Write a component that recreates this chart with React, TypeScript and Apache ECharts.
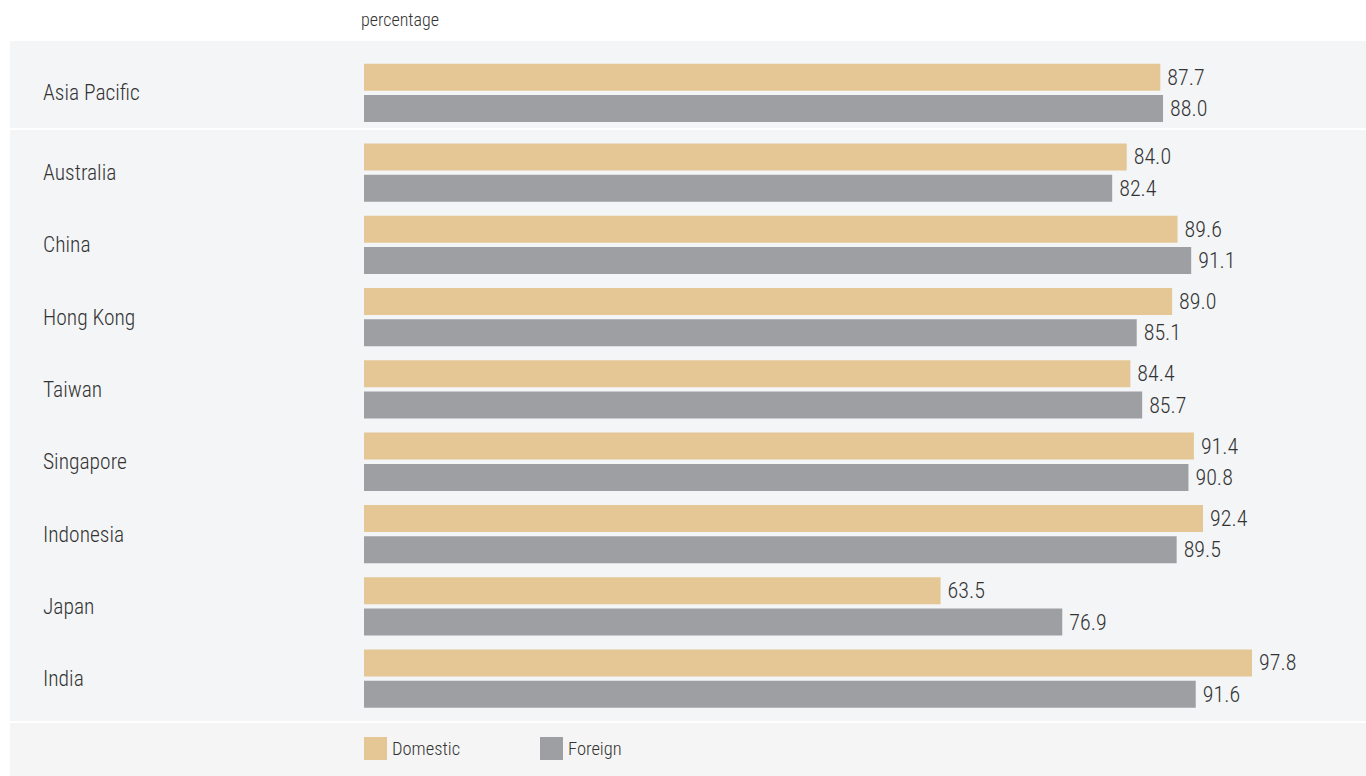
import React, { useEffect, useRef } from "react";
import * as echarts from "echarts";

const regionCategories = ["Asia Pacific"];
const regionDomestic = [87.7];
const regionForeign = [88.0];

const marketCategories = ["Australia", "China", "Hong Kong", "Taiwan", "Singapore", "Indonesia", "Japan", "India"];
const marketDomestic = [84.0, 89.6, 89.0, 84.4, 91.4, 92.4, 63.5, 97.8];
const marketForeign = [82.4, 91.1, 85.1, 85.7, 90.8, 89.5, 76.9, 91.6];

const seriesNames = ["Domestic", "Foreign"];
const unitLabel = "percentage";

const FONT = "'Liberation Sans Narrow', 'Arial Narrow', 'Roboto Condensed', 'DejaVu Sans Condensed', sans-serif";
const DOM_COLOR = "#e4c795";
const FOR_COLOR = "#9e9fa3";
const TEXT = "#333333";
const WEIGHT = 300;

export default function App() {
  const ref = useRef<HTMLDivElement>(null);
  useEffect(() => {
    document.body.style.margin = "0";
    const chart = echarts.init(ref.current!, null, { renderer: "svg" });
    const left = 364;
    const width = 908;
    const xAxisBase = (gridIndex: number) => ({
      type: "value",
      gridIndex,
      min: 0,
      max: 100,
      show: false,
    });
    const yAxisBase = (gridIndex: number, data: string[]) => ({
      type: "category",
      gridIndex,
      data,
      inverse: true,
      axisLine: { show: false },
      axisTick: { show: false },
      splitLine: { show: false },
      axisLabel: {
        align: "left",
        margin: left - 43,
        fontFamily: FONT,
        fontWeight: WEIGHT,
        fontSize: 21.5,
        color: TEXT,
      },
    });
    const label = {
      show: true,
      position: "right",
      distance: 7,
      fontFamily: FONT,
      fontWeight: WEIGHT,
      fontSize: 22,
      color: TEXT,
      formatter: (p: any) => Number(p.value).toFixed(1),
    };
    const bar = (name: string, data: number[], idx: number, color: string) => ({
      type: "bar",
      name,
      data,
      xAxisIndex: idx,
      yAxisIndex: idx,
      barWidth: 27,
      barGap: "16%",
      itemStyle: { color },
      label,
      silent: true,
    });
    const legendText = { fontFamily: FONT, fontWeight: WEIGHT, fontSize: 18.5, color: TEXT, padding: [5, 0, 0, 0] };
    chart.setOption({
      animation: false,
      backgroundColor: "#ffffff",
      textStyle: { fontFamily: FONT },
      graphic: [
        { type: "rect", z: -10, shape: { x: 10, y: 41, width: 1356, height: 87 }, style: { fill: "#f4f5f7" } },
        { type: "rect", z: -10, shape: { x: 10, y: 130, width: 1356, height: 591 }, style: { fill: "#f4f5f7" } },
        { type: "rect", z: -10, shape: { x: 10, y: 723, width: 1356, height: 53 }, style: { fill: "#f5f5f5" } },
        {
          type: "text",
          x: 361,
          y: 19,
          style: { text: unitLabel, fontFamily: FONT, fontWeight: WEIGHT, fontSize: 18, fill: TEXT, verticalAlign: "middle" },
        },
      ],
      grid: [
        { left, width, top: 56.7, height: 72.3 },
        { left, width, top: 136.4, height: 578.4 },
      ],
      xAxis: [xAxisBase(0), xAxisBase(1)],
      yAxis: [yAxisBase(0, regionCategories), yAxisBase(1, marketCategories)],
      legend: [
        {
          data: [seriesNames[0]],
          left: 364,
          top: 737,
          itemWidth: 23,
          itemHeight: 23,
          icon: "rect",
          selectedMode: false,
          textStyle: legendText,
          padding: 0,
        },
        {
          data: [seriesNames[1]],
          left: 540,
          top: 737,
          itemWidth: 23,
          itemHeight: 23,
          icon: "rect",
          selectedMode: false,
          textStyle: legendText,
          padding: 0,
        },
      ],
      series: [
        bar(seriesNames[0], regionDomestic, 0, DOM_COLOR),
        bar(seriesNames[1], regionForeign, 0, FOR_COLOR),
        bar(seriesNames[0], marketDomestic, 1, DOM_COLOR),
        bar(seriesNames[1], marketForeign, 1, FOR_COLOR),
      ],
    });
    return () => chart.dispose();
  }, []);
  return <div ref={ref} style={{ position: "fixed", left: 0, top: 0, width: 1366, height: 776 }} />;
}
